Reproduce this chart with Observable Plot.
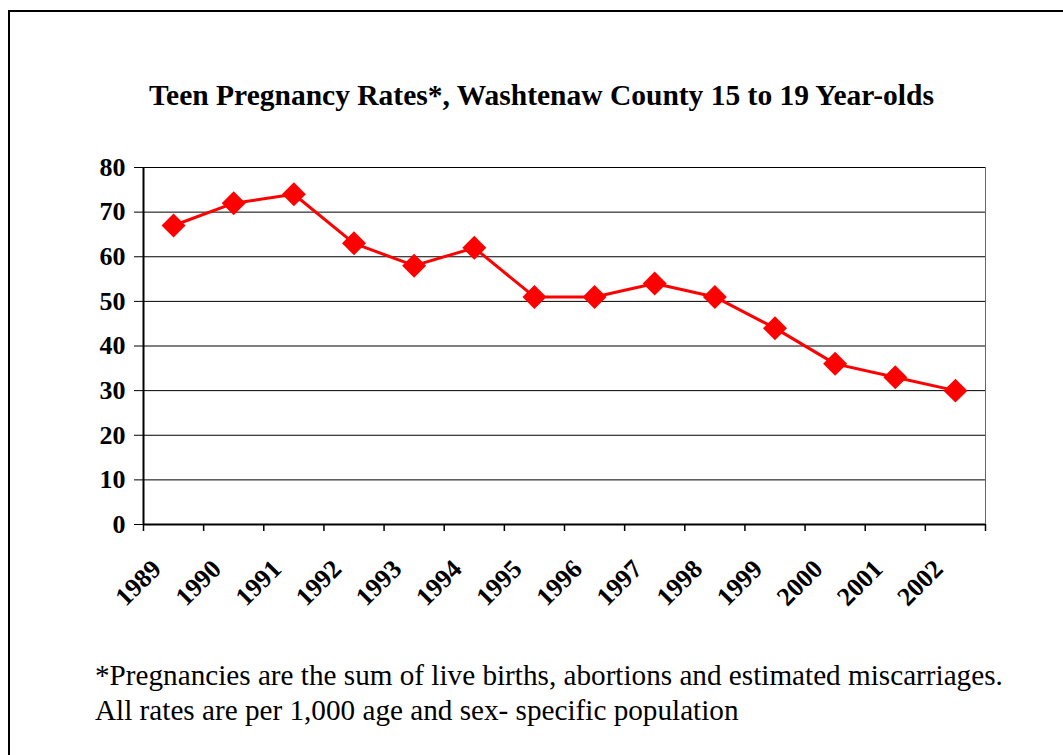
<!DOCTYPE html>
<html>
<head>
<meta charset="utf-8">
<script src="https://cdn.jsdelivr.net/npm/d3@7"></script>
<script src="https://cdn.jsdelivr.net/npm/@observablehq/plot@0.6"></script>
<style>
  html, body { margin: 0; padding: 0; background: #fff; }
  #page { position: relative; width: 1063px; height: 755px; overflow: hidden; font-family: "Liberation Serif", "Times New Roman", serif; }
  #frame { position: absolute; left: 8px; top: 10px; width: 1100px; height: 800px; border-left: 2px solid #000; border-top: 2px solid #000; }
  #title { position: absolute; left: 0; width: 1083px; top: 79px; text-align: center; font-family: "Liberation Serif", serif; font-weight: bold; font-size: 29.5px; line-height: normal; color: #000; white-space: nowrap; }
  #chart { position: absolute; left: 0; top: 140px; }
  #note { position: absolute; left: 95px; top: 658px; font-family: "Liberation Serif", serif; font-size: 29.2px; line-height: 35px; color: #000; white-space: nowrap; }
</style>
</head>
<body>
<div id="page">
  <div id="frame"></div>
  <div id="title">Teen Pregnancy Rates*, Washtenaw County 15 to 19 Year-olds</div>
  <div id="chart"></div>
  <div id="note">*Pregnancies are the sum of live births, abortions and estimated miscarriages.<br>All rates are per 1,000 age and sex- specific population</div>
</div>
<script>
const years = ["1989","1990","1991","1992","1993","1994","1995","1996","1997","1998","1999","2000","2001","2002"];
const rates = [67, 72, 74, 63, 58, 62, 51, 51, 54, 51, 44, 36, 33, 30];
const yTicks = [0, 10, 20, 30, 40, 50, 60, 70, 80];

const data = years.map((year, i) => ({year, i, pos: i + 0.5, rate: rates[i]}));
const boundaries = d3.range(0, years.length + 1);

const chart = Plot.plot({
  width: 1063,
  height: 500,
  marginLeft: 143,
  marginRight: 78,
  marginTop: 27,
  marginBottom: 116,
  style: {fontFamily: "'Liberation Serif', 'Times New Roman', serif", background: "transparent"},
  x: {type: "linear", domain: [0, years.length], axis: null},
  y: {type: "linear", domain: [0, 80], axis: null},
  marks: [
    // gridlines
    Plot.ruleY(yTicks.filter(d => d > 0), {stroke: "#000", strokeWidth: 1}),
    // right border of plot area
    Plot.ruleX([years.length], {stroke: "#666", strokeWidth: 1}),
    // x ticks at category boundaries
    Plot.axisX({ticks: boundaries, tickFormat: () => "", tickSize: 7, stroke: "#000", strokeWidth: 1.5, label: null}),
    Plot.axisY({ticks: yTicks, tickSize: 9, tickPadding: 9, fontSize: 26, fontWeight: "bold", fill: "#000", stroke: "#000", label: null}),
    // axes lines
    Plot.ruleY([0], {stroke: "#000", strokeWidth: 2}),
    Plot.ruleX([0], {stroke: "#000", strokeWidth: 2}),
    // x labels
    Plot.text(data, {x: "pos", y: () => 0, text: "year", rotate: -45, textAnchor: "end", lineAnchor: "bottom", dx: -11, dy: 46, fontSize: 26, fontWeight: "bold", fill: "#000"}),
    // series
    Plot.line(data, {x: "pos", y: "rate", stroke: "#ff0000", strokeWidth: 3}),
    Plot.dot(data, {x: "pos", y: "rate", symbol: "diamond2", r: 10.8, fill: "#ff0000", stroke: "none"})
  ]
});
document.getElementById("chart").appendChild(chart);
</script>
</body>
</html>
